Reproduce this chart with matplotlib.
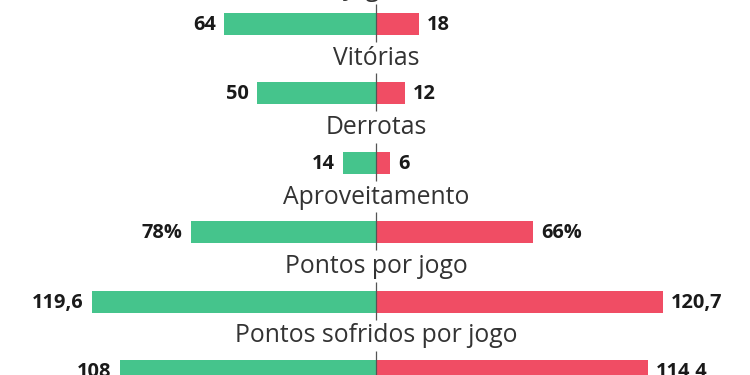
import matplotlib
matplotlib.use("Agg")
import matplotlib.pyplot as plt

categories = ["Jogos", "Vitórias", "Derrotas", "Aproveitamento", "Pontos por jogo", "Pontos sofridos por jogo"]
left_values = [64, 50, 14, 78, 119.6, 108]
right_values = [18, 12, 6, 66, 120.7, 114.4]
left_labels = ["64", "50", "14", "78%", "119,6", "108"]
right_labels = ["18", "12", "6", "66%", "120,7", "114,4"]

green = "#45c48c"
red = "#f04d64"

W, H = 750, 375
fig = plt.figure(figsize=(7.5, 3.75), dpi=100)
ax = fig.add_axes([0, 0, 1, 1])
ax.set_axis_off()

px_per_unit = 2.375
center_px = 376
row_px = 69.4
first_px = 24
ax.set_xlim(-center_px / px_per_unit, (W - center_px) / px_per_unit)
ax.set_ylim((H - first_px) / row_px, -first_px / row_px)

bar_h = 22 / row_px
ys = list(range(len(categories)))
ax.barh(ys, [-v for v in left_values], height=bar_h, color=green, linewidth=0)
ax.barh(ys, right_values, height=bar_h, color=red, linewidth=0)

gap = 8 / px_per_unit
for i, (cat, lv, rv, ll, rl) in enumerate(zip(categories, left_values, right_values, left_labels, right_labels)):
    ax.plot([0, 0], [i - 20 / row_px, i + 18 / row_px], color="#555555", lw=0.9, solid_capstyle="butt")
    ax.text(-lv - gap, i + 1 / row_px, ll, ha="right", va="center", fontsize=14.4, fontweight="bold",
            family="Open Sans", color="#1a1a1a")
    ax.text(rv + gap, i + 1 / row_px, rl, ha="left", va="center", fontsize=14.4, fontweight="bold",
            family="Open Sans", color="#1a1a1a")
    ax.text(0, i - 28.5 / row_px, cat, ha="center", va="baseline", fontsize=17.8,
            family="Open Sans", color="#333333")

fig.savefig("out.png", dpi=100, facecolor="white")
